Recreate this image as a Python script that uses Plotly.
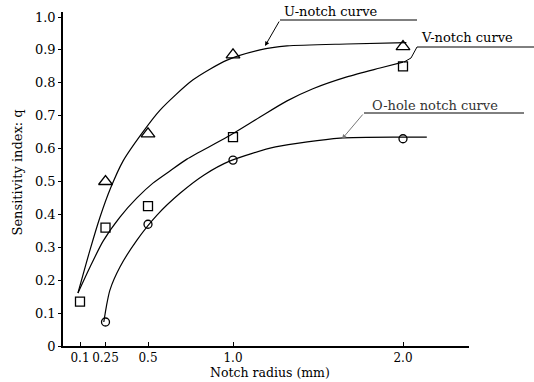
import plotly.graph_objects as go

# ---- data ----
radius_pts = [0.25, 0.5, 1.0, 2.0]
u_pts = [0.50, 0.645, 0.885, 0.91]
v_radius = [0.1, 0.25, 0.5, 1.0, 2.0]
v_pts = [0.135, 0.36, 0.425, 0.635, 0.85]
o_pts = [0.073, 0.37, 0.565, 0.63]

u_curve_x = [0.088, 0.159, 0.218, 0.28, 0.353, 0.465, 0.571, 0.765, 0.965, 1.159, 1.318, 1.67, 2.02]
u_curve_y = [0.161, 0.292, 0.392, 0.48, 0.562, 0.647, 0.717, 0.809, 0.869, 0.9, 0.912, 0.918, 0.922]
v_curve_x = [0.088, 0.159, 0.235, 0.335, 0.435, 0.529, 0.629, 0.729, 0.965, 1.159, 1.318, 1.47, 1.67, 1.865, 2.0]
v_curve_y = [0.161, 0.24, 0.318, 0.392, 0.45, 0.495, 0.532, 0.568, 0.635, 0.696, 0.745, 0.782, 0.818, 0.845, 0.863]
o_curve_x = [0.24, 0.255, 0.276, 0.335, 0.435, 0.553, 0.69, 0.83, 0.98, 1.25, 1.63, 2.0, 2.14]
o_curve_y = [0.073, 0.12, 0.17, 0.24, 0.322, 0.398, 0.465, 0.52, 0.562, 0.605, 0.632, 0.635, 0.635]

x_ticks = [0.1, 0.25, 0.5, 1.0, 2.0]
x_tick_labels = ["0.1", "0.25", "0.5", "1.0", "2.0"]
y_ticks = [0, 0.1, 0.2, 0.3, 0.4, 0.5, 0.6, 0.7, 0.8, 0.9, 1.0]
y_tick_labels = ["0", "0.1", "0.2", "0.3", "0.4", "0.5", "0.6", "0.7", "0.8", "0.9", "1.0"]

FONT = "DejaVu Serif"
W, H = 534, 382
ML, MR, MT, MB = 63, 65, 12, 36
PW, PH = W - ML - MR, H - MT - MB


def px(xp, yp):
    return (xp - ML) / PW, (H - MB - yp) / PH


fig = go.Figure()
line_style = dict(color="black", width=1.2, shape="spline", smoothing=0.7)
for cx, cy in [(u_curve_x, u_curve_y), (v_curve_x, v_curve_y), (o_curve_x, o_curve_y)]:
    fig.add_trace(go.Scatter(x=cx, y=cy, mode="lines", line=line_style,
                             showlegend=False, hoverinfo="skip"))

fig.add_trace(go.Scatter(x=radius_pts, y=u_pts, mode="markers", showlegend=False,
                         marker=dict(symbol="triangle-up-open", size=12,
                                     color="black", line=dict(width=1.3))))
fig.add_trace(go.Scatter(x=v_radius, y=v_pts, mode="markers", showlegend=False,
                         marker=dict(symbol="square-open", size=9,
                                     color="black", line=dict(width=1.3))))
fig.add_trace(go.Scatter(x=radius_pts, y=o_pts, mode="markers", showlegend=False,
                         marker=dict(symbol="circle-open", size=8,
                                     color="black", line=dict(width=1.3))))

shapes = []
annotations = []


def seg(p1, p2, dash="solid", color="black", width=1):
    x0, y0 = px(*p1)
    x1, y1 = px(*p2)
    shapes.append(dict(type="line", xref="paper", yref="paper", x0=x0, y0=y0,
                       x1=x1, y1=y1, line=dict(color=color, width=width, dash=dash)))


def label(text, cx, cy, color="black"):
    x, y = px(cx, cy)
    annotations.append(dict(text=text, x=x, y=y, xref="paper", yref="paper",
                            showarrow=False, xanchor="center", yanchor="middle",
                            font=dict(family=FONT, size=13, color=color)))


def arrow(tip, tail, color="black"):
    x, y = px(*tip)
    annotations.append(dict(text="", x=x, y=y, xref="paper", yref="paper",
                            showarrow=True, ax=tail[0] - tip[0], ay=tail[1] - tip[1],
                            arrowhead=2, arrowsize=0.9, arrowwidth=1, arrowcolor=color))


# U-notch label
label("U-notch curve", 331, 11)
seg((280, 20), (417, 20))
arrow((265, 46), (280, 20))
# V-notch label
label("V-notch curve", 467, 38)
seg((417, 47), (534, 47))
seg((417, 47), (411, 58))
seg((411, 58), (404, 62))
# O-hole label
label("O-hole notch curve", 435, 105, color="#333333")
seg((364, 113), (524, 113))
arrow((342, 139), (364, 113), color="#777777")

# axis titles
x, y = px(7, 173)
annotations.append(dict(text="Sensitivity index: q", x=x, y=y, xref="paper", yref="paper",
                        showarrow=False, textangle=-90, xanchor="left", yanchor="middle",
                        font=dict(family=FONT, size=13, color="black")))
x, y = px(270, 382)
annotations.append(dict(text="Notch radius (mm)", x=x, y=y, xref="paper", yref="paper",
                        showarrow=False, xanchor="center", yanchor="bottom",
                        font=dict(family=FONT, size=12.5, color="black")))

fig.update_layout(
    width=W, height=H,
    margin=dict(l=ML, r=MR, t=MT, b=MB, autoexpand=False),
    paper_bgcolor="white", plot_bgcolor="white",
    shapes=shapes, annotations=annotations,
    xaxis=dict(range=[0, PW / 170], tickvals=x_ticks, ticktext=x_tick_labels,
               tickangle=0, automargin=False,
               showline=True, linecolor="black", linewidth=1.5, showgrid=False,
               zeroline=False, ticks="inside", ticklen=4, tickcolor="black",
               tickfont=dict(family=FONT, size=12, color="black")),
    yaxis=dict(range=[0, PH / 329], tickvals=y_ticks, ticktext=y_tick_labels,
               automargin=False,
               showline=True, linecolor="black", linewidth=1.5, showgrid=False,
               zeroline=False, ticks="outside", ticklen=3, tickcolor="black",
               tickfont=dict(family=FONT, size=13, color="black")),
)

fig.write_html("out.html", config={"displayModeBar": False},
               post_script="document.body.style.margin='0';document.body.style.overflow='hidden';")
